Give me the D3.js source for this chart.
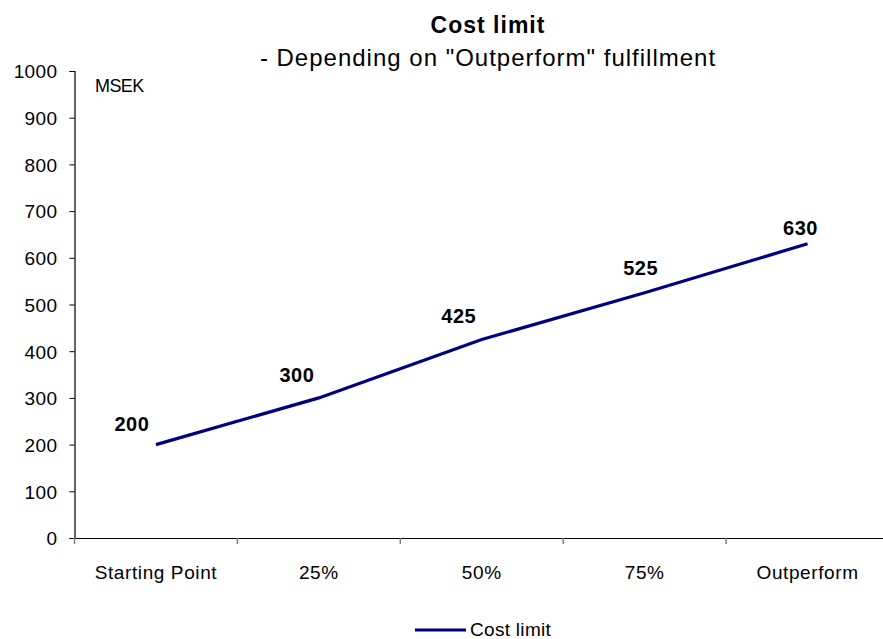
<!DOCTYPE html>
<meta charset="utf-8">
<style>
  body { margin: 0; background: #fff; }
  text { font-family: 'Liberation Sans', Arial, sans-serif; fill: #000; }
</style>
<script src="https://d3js.org/d3.v7.min.js"></script>
<div id="chart"></div>
<script>
// data
var categories = ["Starting Point", "25%", "50%", "75%", "Outperform"];
var costLimit = [200, 300, 425, 525, 630];
var yTicks = [0, 100, 200, 300, 400, 500, 600, 700, 800, 900, 1000];
// label nudges (Excel-style placement, left/above point)
var labelDx = [-24, -22, -23, -4, -7];
var labelDy = [-14, -16, -17, -18, -9];

var W = 883, H = 639;
var margin = {top: 71, right: -6, bottom: 101, left: 74.5};
var width = W - margin.left - margin.right,
    height = H - margin.top - margin.bottom;

var svg = d3.select("#chart").append("svg")
    .attr("width", W).attr("height", H);

var g = svg.append("g")
    .attr("transform", "translate(" + margin.left + "," + margin.top + ")");

var x = d3.scaleBand().domain(categories).range([0, width]);
var y = d3.scaleLinear().domain([0, 1000]).range([height, 0]);

// y axis
var yAxis = g.append("g")
  .call(d3.axisLeft(y).tickValues(yTicks).tickFormat(d3.format("d"))
    .tickSize(5).tickPadding(12));
yAxis.select(".domain").attr("stroke", "#000").attr("stroke-width", 1.2);
yAxis.selectAll(".tick line").attr("stroke", "#000");
yAxis.selectAll(".tick text")
  .style("font-size", "19px")
  .style("letter-spacing", "0.4px")
  .attr("dy", "0.36em");

// x axis
var xAxis = g.append("g")
  .attr("transform", "translate(0," + height + ")")
  .call(d3.axisBottom(x).tickSize(0).tickPadding(28));
xAxis.select(".domain").attr("stroke", "#000").attr("stroke-width", 1.2);
xAxis.selectAll(".tick text")
  .style("font-size", "19px")
  .style("letter-spacing", "0.6px");

// x tick marks between categories
g.append("g").selectAll("line")
  .data(categories)
  .enter().append("line")
    .attr("x1", function(d) { return x(d); })
    .attr("x2", function(d) { return x(d); })
    .attr("y1", height)
    .attr("y2", height + 6)
    .attr("stroke", "#808080")
    .attr("stroke-width", 1.5);

// line
var line = d3.line()
  .x(function(d, i) { return x(categories[i]) + x.bandwidth() / 2; })
  .y(function(d) { return y(d); });

g.append("path")
  .datum(costLimit)
  .attr("fill", "none")
  .attr("stroke", "#000080")
  .attr("stroke-width", 3.2)
  .attr("d", line);

// value labels
g.append("g").selectAll("text")
  .data(costLimit)
  .enter().append("text")
    .attr("x", function(d, i) { return x(categories[i]) + x.bandwidth() / 2 + labelDx[i]; })
    .attr("y", function(d, i) { return y(d) + labelDy[i]; })
    .attr("text-anchor", "middle")
    .style("font-size", "20px")
    .style("font-weight", "bold")
    .style("letter-spacing", "0.5px")
    .text(function(d) { return d; });

// unit
svg.append("text")
  .attr("x", 95).attr("y", 92)
  .style("font-size", "18px")
  .style("letter-spacing", "-0.6px")
  .text("MSEK");

// titles
svg.append("text")
  .attr("x", 488).attr("y", 33)
  .attr("text-anchor", "middle")
  .style("font-size", "23px")
  .style("font-weight", "bold")
  .style("letter-spacing", "1px")
  .text("Cost limit");

svg.append("text")
  .attr("x", 488).attr("y", 66)
  .attr("text-anchor", "middle")
  .style("font-size", "24px")
  .style("letter-spacing", "1px")
  .text("- Depending on \"Outperform\" fulfillment");

// legend
var legend = svg.append("g").attr("transform", "translate(415,630)");
legend.append("line")
  .attr("x1", 0).attr("x2", 51)
  .attr("stroke", "#000080").attr("stroke-width", 3.2);
legend.append("text")
  .attr("x", 55).attr("y", 6)
  .style("font-size", "19px")
  .style("letter-spacing", "0.3px")
  .text("Cost limit");
</script>
